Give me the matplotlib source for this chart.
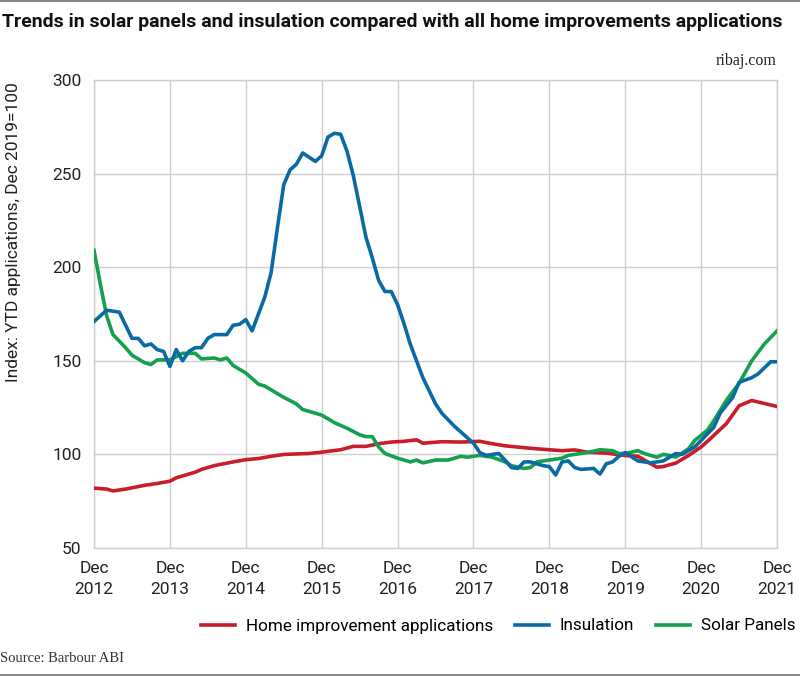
import matplotlib
matplotlib.use('Agg')
import matplotlib.pyplot as plt
from matplotlib.lines import Line2D

# month offsets from Dec 2012 and index values (Dec 2019 = 100)
ins_months = [0, 2, 4, 6, 7, 8, 9, 10, 11, 12, 13, 14, 15, 16, 17, 18, 19, 21, 22, 23,
              24, 25, 27, 28, 29, 30, 31, 32, 33, 35, 36, 37, 38, 39, 40, 41, 43, 44, 45, 46,
              47, 48, 49, 50, 52, 54, 55, 57, 58, 60, 61, 62, 64, 65, 66, 67, 68, 69, 71, 72,
              73, 74, 75, 76, 77, 79, 80, 81, 82, 83, 84, 86, 88, 90, 92, 93, 95, 96, 98, 99,
              101, 102, 104, 105, 107, 108]
ins_values = [171, 177, 176, 162, 162, 158, 159, 156, 155, 147, 156, 150, 155, 157, 157, 162, 164, 164, 169, 169.5,
              172, 166, 184, 197, 221, 244, 252, 255, 261, 256.5, 259.5, 269.5, 271.5, 271, 262, 249, 216, 205, 193, 187,
              187, 180, 170, 159, 141, 127, 122, 115, 112, 106, 101, 99.5, 100.5, 97, 93, 92.5, 96, 96, 94, 93.5,
              89, 96, 96.5, 93, 92, 92.5, 89.5, 95, 96, 99, 101, 96.5, 95.5, 96.5, 100.5, 100, 104, 107.5, 114.5, 122,
              130.5, 138.5, 141, 143, 149.5, 149.5]

sol_months = [0, 1, 2, 3, 5, 6, 8, 9, 10, 12, 14, 16, 17, 19, 20, 21, 22, 23, 24, 25,
              26, 27, 29, 30, 32, 33, 34, 36, 37, 38, 40, 42, 43, 44, 45, 46, 48, 49, 50, 51,
              52, 54, 56, 58, 59, 61, 63, 65, 66, 68, 69, 70, 72, 74, 75, 77, 78, 80, 82, 83,
              84, 86, 87, 89, 90, 91, 92, 94, 95, 97, 98, 100, 102, 104, 106, 108]
sol_values = [209, 191, 174, 164, 157, 153, 149, 148, 150.5, 150.5, 154, 154, 151, 151.5, 150.5, 151.5, 147.5, 145.5, 143.5, 140.5,
              137.5, 136.5, 132.5, 130.5, 127, 124, 123, 121, 119, 117, 114, 110.5, 109.5, 109.5, 104, 100.5, 98, 97, 96, 97,
              95.5, 97, 97, 99, 98.5, 99.5, 98.5, 96, 94, 92.5, 93, 96, 97, 98, 99.5, 100.5, 101, 102.5, 102, 100.5,
              100.5, 102, 100.5, 98.5, 100, 99.5, 98.5, 103, 107.5, 113, 118, 129, 138, 150, 159, 166]

home_months = [0, 2, 3, 5, 8, 10, 12, 13, 16, 17, 19, 22, 24, 26, 28, 30, 34, 36, 39, 41,
               43, 45, 47, 49, 51, 52, 55, 58, 61, 63, 65, 68, 70, 74, 76, 78, 81, 84, 86, 87,
               89, 90, 92, 94, 96, 97, 100, 102, 104, 105, 108]
home_values = [82, 81.5, 80.5, 81.5, 83.5, 84.5, 85.7, 87.5, 90.5, 92, 94, 96, 97.2, 97.8, 99, 100, 100.5, 101.2, 102.5, 104.3,
               104.3, 105.7, 106.6, 107, 107.8, 106, 106.8, 106.6, 107, 105.7, 104.6, 103.6, 103, 102, 102.4, 101.2, 100.7, 99.4, 99, 97,
               93.2, 93.5, 95.4, 99.4, 104, 107, 116.5, 126, 128.8, 128, 125.6]

tick_months = [0, 12, 24, 36, 48, 60, 72, 84, 96, 108]
tick_labels = ['Dec\n%d' % y for y in range(2012, 2022)]
y_ticks = [50, 100, 150, 200, 250, 300]

red = '#c81e2b'
blue = '#0b6aa3'
green = '#14a04c'

plt.rcParams['font.family'] = ['Roboto', 'DejaVu Sans']

fig = plt.figure(figsize=(8, 6.76), dpi=100)
ax = fig.add_axes([0.1175, 0.1893, 0.8538, 0.6924])

ax.plot(home_months, home_values, color=red, lw=2.6, label='Home improvement applications', zorder=3)
ax.plot(ins_months, ins_values, color=blue, lw=2.6, label='Insulation', zorder=4)
ax.plot(sol_months, sol_values, color=green, lw=2.6, label='Solar Panels', zorder=3)

ax.set_xlim(0, 108)
ax.set_ylim(50, 300)
ax.set_xticks(tick_months)
ax.set_xticklabels(tick_labels, fontsize=12.5, color='#222222', linespacing=1.5)
ax.set_yticks(y_ticks)
ax.set_yticklabels([str(v) for v in y_ticks], fontsize=12.5, color='#222222')
ax.tick_params(length=0, pad=9)
ax.grid(True, color='#cfcfcf', lw=1)
for s in ax.spines.values():
    s.set_color('#cfcfcf')
    s.set_linewidth(1)

fig.text(0.003, 1 - 22 / 676, 'Trends in solar panels and insulation compared with all home improvements applications',
         fontsize=14, fontweight='bold', color='#111111', ha='left', va='center')
fig.text(777 / 800, 1 - 61 / 676, 'ribaj.com', family='Liberation Serif', fontsize=11.5,
         color='#222222', ha='right', va='center')
fig.text(14 / 800, 1 - 232 / 676, 'Index: YTD applications, Dec 2019=100', rotation=90,
         fontsize=12.5, color='#222222', ha='center', va='center')
fig.text(0.0, 1 - 658 / 676, 'Source: Barbour ABI', family='Liberation Serif', fontsize=10.5,
         color='#333333', ha='left', va='center')

fig.legend(loc='center right', bbox_to_anchor=(1.003, 1 - 626 / 676), ncol=3, frameon=False,
           fontsize=12.3, handlelength=2.0, handletextpad=0.65, columnspacing=1.25, borderaxespad=0)

fig.add_artist(Line2D([0, 1], [0.999, 0.999], color='#888888', lw=1.5))
fig.add_artist(Line2D([0, 1], [0.002, 0.002], color='#888888', lw=1.5))

fig.savefig('out.png', dpi=100, facecolor='white')
